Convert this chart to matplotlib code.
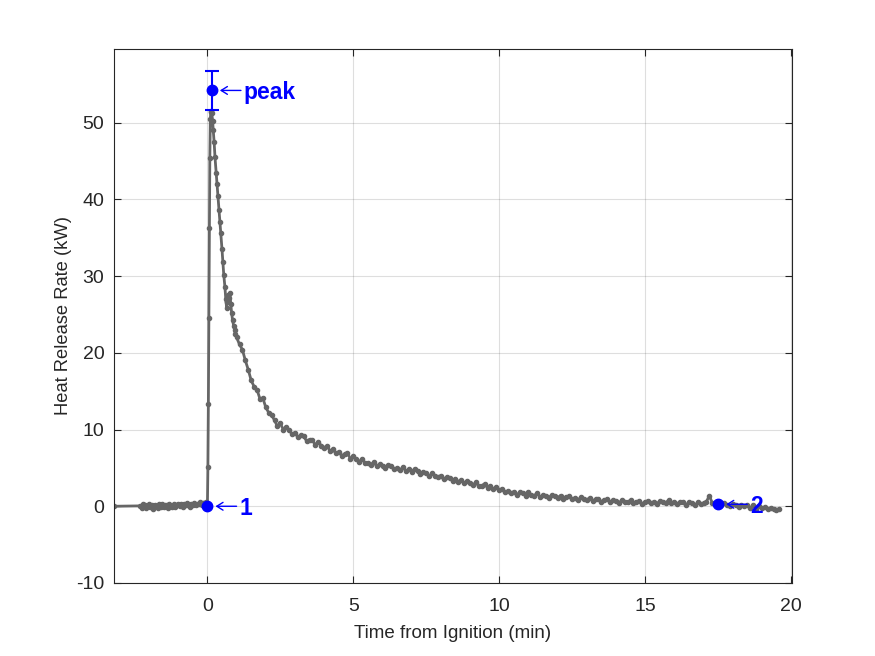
"""Heat release rate vs time from ignition, MATLAB-style figure."""

import matplotlib
matplotlib.use("Agg")
import matplotlib.pyplot as plt
import numpy as np

plt.rcParams["font.family"] = ["Liberation Sans", "DejaVu Sans"]
plt.rcParams["axes.unicode_minus"] = False

# Baseline before ignition (min, kW)
start_t = [-3.2]
start_hrr = [0.0]
pre_hrr = [0.05, -0.2, 0.25, 0.1, -0.25, 0.0, 0.3, -0.1, 0.15, -0.3,
           0.2, 0.05, -0.2, 0.3, -0.05, 0.35, -0.15, 0.1, 0.2, -0.25,
           0.25, 0.05, -0.1, 0.3, -0.05, 0.2, 0.35, 0.0, 0.25, -0.1,
           0.3, 0.1, 0.4, 0.15, -0.05, 0.35, 0.2, 0.45, 0.1, 0.35,
           0.25, 0.5, 0.2, 0.4, 0.45, 0.55]
pre_step = 0.05

# Ignition rise and early decay
rise_t = [0.0, 0.017, 0.033, 0.05, 0.067, 0.083, 0.1, 0.117, 0.133]
rise_hrr = [0.0, 5.1, 13.3, 24.6, 36.3, 45.4, 50.5, 51.5, 51.4]
early_t = [0.15, 0.18, 0.2, 0.23, 0.26, 0.3, 0.33, 0.36, 0.4, 0.43,
           0.46, 0.5, 0.53, 0.56, 0.6, 0.63, 0.66, 0.68, 0.71, 0.74,
           0.77, 0.8, 0.83, 0.86, 0.9, 0.93, 0.96]
early_hrr = [51.2, 50.2, 49.0, 47.5, 45.5, 43.5, 42.0, 40.5, 38.6, 37.0,
             35.6, 33.5, 31.8, 30.2, 28.6, 27.0, 25.8, 26.6, 27.6, 27.2,
             27.8, 26.4, 25.2, 24.3, 23.5, 23.0, 22.4]

# Tail, sampled every 0.1 min from 1.0 min
tail_start = 1.0
tail_step = 0.1
tail_hrr = [
    22.0, 21.1, 20.4, 19.0, 17.8, 16.4, 15.6, 15.2, 14.0, 14.1,
    12.9, 12.2, 11.9, 11.2, 10.4, 10.8, 10.0, 10.3, 9.9, 9.4,
    9.6, 9.0, 9.3, 9.1, 8.5, 8.7, 8.6, 8.0, 8.4, 7.9,
    7.6, 7.9, 7.2, 7.4, 6.9, 7.1, 6.6, 6.8, 6.9, 6.2,
    6.5, 6.1, 5.8, 6.2, 5.6, 5.7, 5.4, 5.8, 5.2, 5.5,
    5.3, 5.0, 5.4, 5.3, 4.8, 5.0, 4.7, 5.1, 4.6, 4.8,
    4.5, 4.9, 4.6, 4.2, 4.5, 4.3, 3.9, 4.3, 4.0, 3.8,
    4.0, 3.5, 3.8, 3.7, 3.3, 3.6, 3.2, 3.4, 3.0, 3.3,
    3.0, 2.8, 3.1, 2.6, 2.7, 2.9, 2.4, 2.6, 2.2, 2.5,
    2.1, 2.3, 1.8, 2.0, 1.7, 1.9, 1.5, 1.8, 1.7, 1.4,
    1.8, 1.5, 1.4, 1.7, 1.2, 1.5, 1.4, 1.1, 1.5, 1.3,
    1.1, 1.4, 1.0, 1.2, 1.3, 0.9, 1.1, 0.8, 1.2, 1.0,
    0.8, 1.1, 0.7, 0.9, 1.0, 0.6, 0.8, 0.9, 0.5, 0.8,
    0.7, 0.4, 0.8, 0.6, 0.5, 0.8, 0.4, 0.6, 0.7, 0.3,
    0.6, 0.7, 0.4, 0.6, 0.3, 0.7, 0.5, 0.4, 0.8, 0.4,
    0.5, 0.3, 0.6, 0.5, 0.2, 0.5, 0.4, 0.1, 0.5, 0.3,
    0.4, 0.6, 1.4, 0.4, 0.3, 0.5, 0.1, 0.4, 0.2, 0.0,
    0.3, 0.1, -0.1, 0.2, 0.0, 0.1, -0.2, 0.1, -0.3, 0.0,
    -0.2, -0.1, -0.4, -0.2, -0.3, -0.5, -0.3,
]

# Marked points
peak_t, peak_hrr, peak_err = 0.15, 54.2, 2.55
p1_t, p1_hrr = 0.0, 0.0
p2_t, p2_hrr = 17.5, 0.26

pre_t = -2.3 + pre_step * np.arange(len(pre_hrr))
tail_t = tail_start + tail_step * np.arange(len(tail_hrr))
time = np.concatenate([start_t, pre_t, rise_t, early_t, tail_t])
hrr = np.concatenate([start_hrr, pre_hrr, rise_hrr, early_hrr, tail_hrr])

fig = plt.figure(figsize=(8.75, 6.56), dpi=100)
ax = fig.add_axes([0.1303, 0.1113, 0.7748, 0.8140])

gray = (0.4, 0.4, 0.4)
ax.plot(time, hrr, "-", color=gray, lw=2.0, marker="o", ms=3.0,
        mfc=gray, mec=gray, zorder=2)

blue = (0, 0, 1)
ax.errorbar([peak_t], [peak_hrr], yerr=[peak_err], fmt="o", color=blue,
            ms=7.5, capsize=5, elinewidth=1.5, capthick=1.5, zorder=4)
ax.plot([p1_t, p2_t], [p1_hrr, p2_hrr], "o", color=blue, ms=7.5, zorder=4)

for x, y, label in [(peak_t, peak_hrr, "peak"), (p1_t, p1_hrr, "1"),
                    (p2_t, p2_hrr, "2")]:
    # thin open-headed arrow pointing back at the marker
    ax.annotate("", xy=(x, y), xytext=(21, 0), textcoords="offset points",
                arrowprops=dict(arrowstyle="->,head_length=0.45,head_width=0.28",
                                color=blue, lw=1.0, shrinkA=0, shrinkB=5.8),
                zorder=5)
    ax.annotate(label, (x, y), xytext=(23, -1.5), textcoords="offset points",
                color=blue, fontsize=16.5, fontweight="bold", va="center",
                ha="left", zorder=5)

dark = (0.15, 0.15, 0.15)
ax.set_xlim(-3.2, 20.03)
ax.set_ylim(-10, 59.6)
ax.set_xticks([0, 5, 10, 15, 20])
ax.set_yticks([-10, 0, 10, 20, 30, 40, 50])
ax.set_xlabel("Time from Ignition (min)", fontsize=13.5, color=dark, labelpad=7)
ax.set_ylabel("Heat Release Rate (kW)", fontsize=13.2, color=dark, labelpad=3)
ax.tick_params(direction="in", length=5, labelsize=14, colors=dark,
               top=True, right=True)
ax.tick_params(axis="x", pad=11)
ax.tick_params(axis="y", pad=7)
ax.grid(True, color=dark, alpha=0.15, lw=0.8)
ax.set_axisbelow(True)
for spine in ax.spines.values():
    spine.set_color(dark)
    spine.set_linewidth(0.8)

fig.savefig("out.png", dpi=100)
